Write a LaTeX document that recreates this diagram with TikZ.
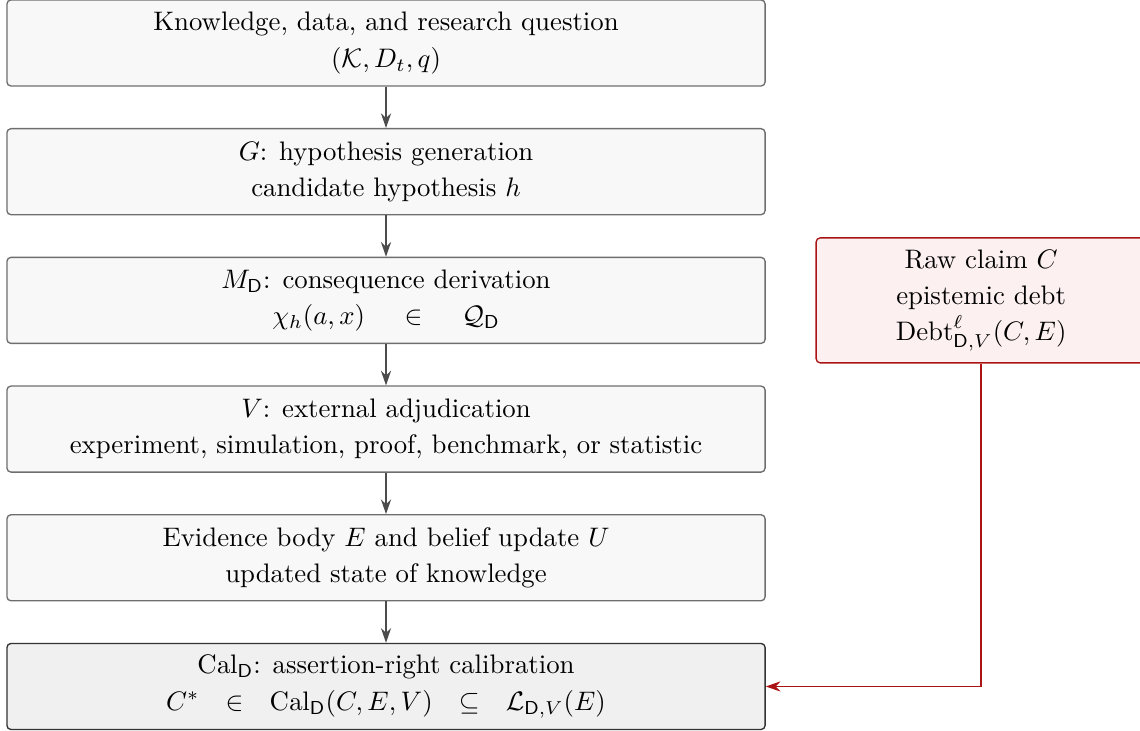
\documentclass[tikz,border=0pt]{standalone}
\usepackage{amsmath}
\usepackage{amssymb}
\usepackage{xcolor}
\usepackage{tikz}
\usetikzlibrary{arrows,arrows.meta,shapes,positioning,calc}

\definecolor{stepfill}{RGB}{248,248,248}
\definecolor{stepline}{RGB}{110,110,110}
\definecolor{calfill}{RGB}{240,240,240}
\definecolor{claimfill}{RGB}{253,240,240}
\definecolor{claimline}{RGB}{170,20,20}

\begin{document}
\begin{tikzpicture}[node distance=1.689cm,auto]
	\tikzstyle{stage}=[draw=stepline, fill=stepfill, rounded corners=1.5pt, line width=0.5pt, align=center, minimum width=9.95cm, minimum height=1.129cm]
	\tikzstyle{flow}=[draw=black!70, line width=0.5pt, -{Stealth[length=5.5pt,width=3.8pt]}]
	\useasboundingbox (-5.066,0.564) rectangle (9.895,-9.029);
	\node[stage](know){Knowledge, data, and research question\\[1.5pt] $(\mathcal{K}, D_t, q)$};
	\node[stage](gen)[below of=know]{$G$: hypothesis generation\\[1.5pt] candidate hypothesis $h$};
	\node[stage](derive)[below of=gen]{$M_{\mathsf{D}}$: consequence derivation\\[1.5pt] $\chi_h(a,x) \hspace{12pt}\in\hspace{12pt} \mathcal{Q}_{\mathsf{D}}$};
	\node[stage](adj)[below of=derive]{$V$: external adjudication\\[1.5pt] experiment, simulation, proof, benchmark, or statistic};
	\node[stage](evid)[below of=adj]{Evidence body $E$ and belief update $U$\\[1.5pt] updated state of knowledge};
	\node[stage, fill=calfill, draw=black!80](cal)[below of=evid]{$\mathrm{Cal}_{\mathsf{D}}$: assertion-right calibration\\[1.5pt] $C^{*} \hspace{7pt}\in\hspace{7pt} \mathrm{Cal}_{\mathsf{D}}(C,E,V) \hspace{7pt}\subseteq\hspace{7pt} \mathcal{L}_{\mathsf{D},V}(E)$};
	\node[draw=claimline, fill=claimfill, rounded corners=1.5pt, line width=0.5pt, align=center, minimum width=4.33cm, minimum height=1.64cm](claim)[right of=derive, node distance=7.81cm]{Raw claim $C$\\[1.5pt] epistemic debt\\[1.5pt] $\mathrm{Debt}^{\ell}_{\mathsf{D},V}(C,E)$};
	
	\path[flow] (know) -- (gen);
	\path[flow] (gen) -- (derive);
	\path[flow] (derive) -- (adj);
	\path[flow] (adj) -- (evid);
	\path[flow] (evid) -- (cal);
	\path[draw=claimline, line width=0.5pt, -{Stealth[length=5.5pt,width=3.8pt]}] (claim.south) |- (cal.east);
\end{tikzpicture}
\end{document}
